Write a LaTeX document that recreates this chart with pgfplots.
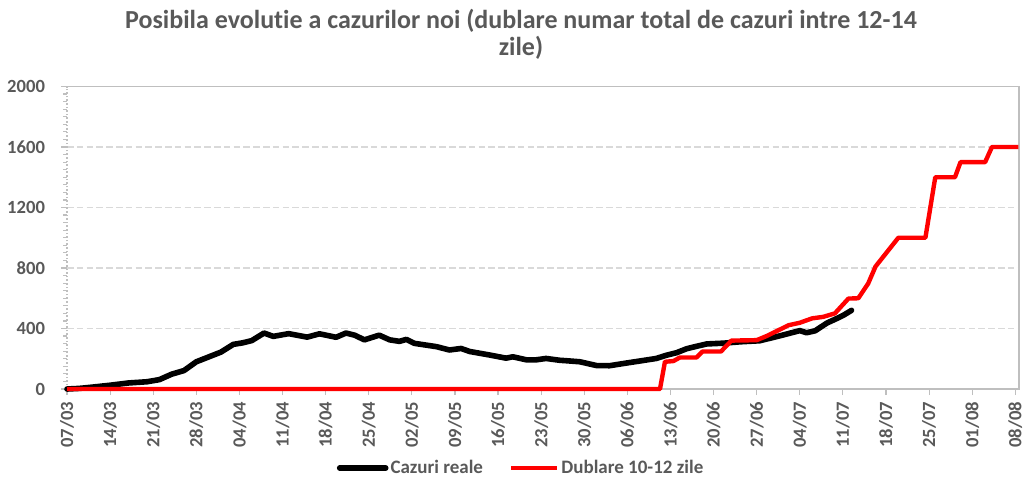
\documentclass[border=0pt]{standalone}
\usepackage{fontspec}
\setmainfont{Carlito}[RawFeature={-liga;-dlig;-clig}]
\usepackage{pgfplots}
\pgfplotsset{compat=1.18}
\definecolor{txt}{HTML}{595959}
\definecolor{gridc}{HTML}{D9D9D9}
\definecolor{bord}{HTML}{BFBFBF}

\begin{document}
\begin{tikzpicture}
\begin{axis}[
name=ax, scale only axis, width=476pt, height=151.25pt,
xmin=0, xmax=154.6, ymin=0, ymax=2000,
axis line style={draw=none},
xtick={0,7,...,154},
xticklabels={07/03,14/03,21/03,28/03,04/04,11/04,18/04,25/04,02/05,09/05,16/05,23/05,30/05,06/06,13/06,20/06,27/06,04/07,11/07,18/07,25/07,01/08,08/08},
ytick={0,400,...,2000},
minor y tick num=7,
tick align=outside, xtick pos=bottom, ytick pos=left,
major tick length=3pt, minor tick length=2pt,
tick style={bord, line width=0.6pt},
ymajorgrids, major grid style={gridc, dash pattern=on 3.3pt off 1.6pt, line width=0.8pt},
/pgf/number format/1000 sep={},
/pgf/number format/assume math mode=true,
tick label style={font=\fontsize{9.3}{11}\selectfont\bfseries, text=txt},
xticklabel style={rotate=90, anchor=east},
yticklabel style={anchor=east, xshift=-4.5pt},
legend style={at={(0.477,0)}, anchor=center, yshift=-39.5pt, draw=none, fill=none,
  font=\fontsize{9.5}{11}\selectfont\bfseries, text=txt,
  /tikz/every even column/.append style={column sep=12pt},
  nodes={inner xsep=1pt}},
legend columns=2,
legend image code/.code={\draw[#1] (0pt,0pt) -- (23pt,0pt);},
clip=false,
]
\draw[bord, line width=0.8pt] (rel axis cs:0,1) -- (rel axis cs:1,1) -- (rel axis cs:1,0) -- (rel axis cs:0,0);
\draw[bord, line width=0.8pt, densely dotted] (rel axis cs:0,0) -- (rel axis cs:0,1);
\addplot[black, line width=2.8pt, line join=round, line cap=round] coordinates {
(0,0)(2,4)(4,12)(7,25)(10,40)(13,48)(15,62)(17,98)(19,122)(21,180)(23,212)(25,244)
(27,295)(28.5,305)(30,320)(32,370)(33.5,348)(36,366)(39,343)(41,365)(43.7,342)(45.3,370)
(46.7,356)(48.3,325)(50.7,356)(52.4,325)(54,315)(55.1,328)(56.4,302)(60,280)(62.1,258)
(64,268)(65.4,248)(68.6,225)(71.3,204)(72.4,213)(74.6,193)(76.2,193)(77.8,202)(80,190)
(81.1,187)(83.3,180)(86,155)(88.1,154)(90.9,172)(93,185)(95.7,202)(97.4,224)(99,240)
(100.6,266)(102.2,282)(103.9,298)(106.6,303)(109.3,312)(112.5,319)(115.8,352)(119,386)
(120.1,372)(121.5,385)(123.4,436)(125,466)(126.1,488)(127.4,520)};
\addlegendentry{Cazuri reale}
\addplot[red, line width=2.2pt, line join=round] coordinates {
(0,0)(96.3,0)(97.1,180)(98.5,185)(99.5,208)(102.2,208)(103.2,248)(106.2,248)(107.9,320)
(112,323)(113.6,350)(117.2,422)(119,438)(121,467)(122.8,477)(124.7,500)(126.9,598)
(128.5,600)(130.1,697)(131.3,810)(135,1000)(139.4,1000)(141,1400)(144.2,1400)(145.1,1500)
(149.1,1500)(150.2,1600)(154.5,1600)};
\addlegendentry{Dublare 10-12 zile}
\end{axis}
\node[anchor=base, text=txt, font=\fontsize{13}{15}\selectfont\bfseries] at ([xshift=-11pt, yshift=29.25pt]ax.north) {Posibila evolutie a cazurilor noi (dublare numar total de cazuri intre 12-14};
\node[anchor=base, text=txt, font=\fontsize{13}{15}\selectfont\bfseries] at ([xshift=-11pt, yshift=15.75pt]ax.north) {zile)};
\pgfresetboundingbox
\path ([xshift=-33.5pt,yshift=-44.5pt]ax.south west) rectangle ([xshift=4pt,yshift=43.25pt]ax.north east);
\end{tikzpicture}
\end{document}
